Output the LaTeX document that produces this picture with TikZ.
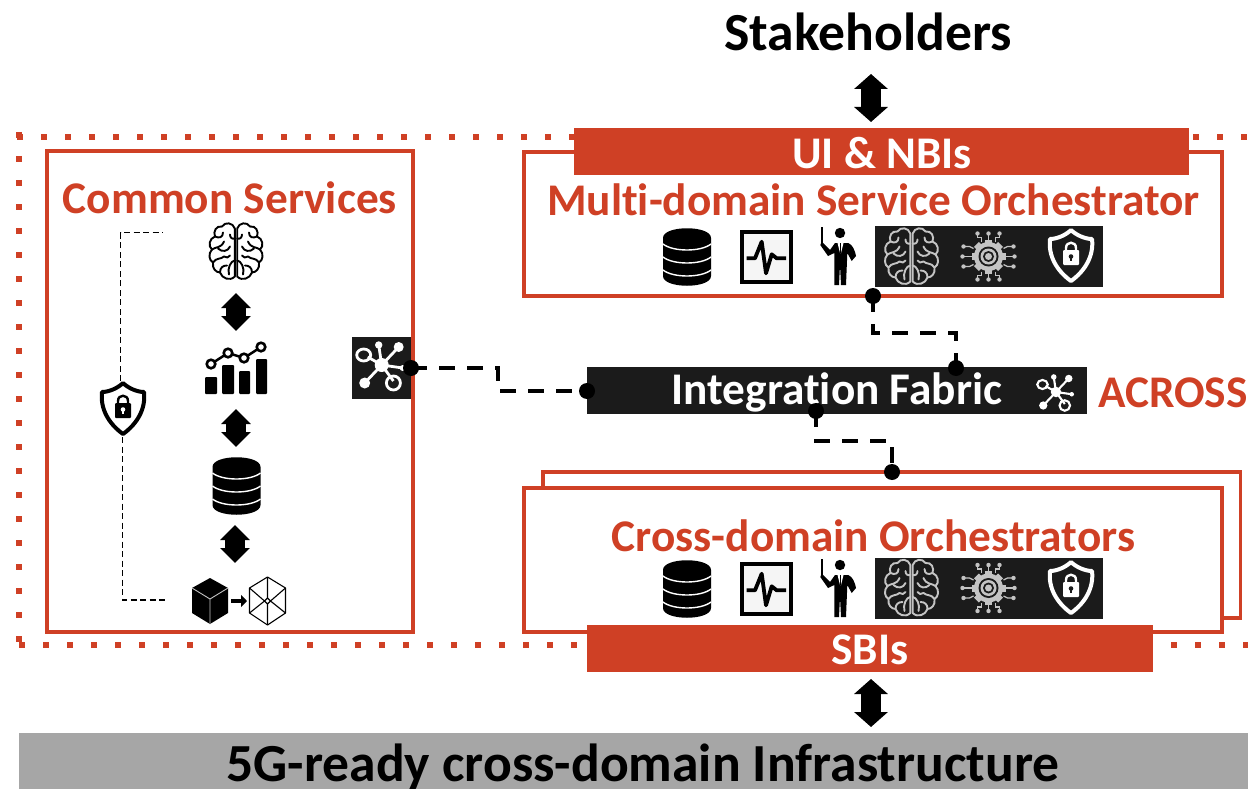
\documentclass[tikz,border=0pt]{standalone}
\usepackage{fontspec}
\setmainfont[Ligatures=NoCommon]{Carlito}
\usetikzlibrary{arrows.meta,calc}
\definecolor{rd}{HTML}{CF4025}
\definecolor{dk}{HTML}{1B1B1B}
\definecolor{gy}{HTML}{C4C4C4}
\definecolor{infra}{HTML}{A6A6A6}
\tikzset{
 x=1pt,y=-1pt,
 box/.style={draw=rd,line width=3.6pt,fill=white},
 bar/.style={fill=rd,inner sep=0pt},
 bartext/.style={text=white,font=\bfseries\fontsize{45.3}{45}\selectfont,inner sep=0pt},
 title/.style={text=rd,font=\bfseries\fontsize{45.3}{45}\selectfont,inner sep=0pt},
 bigtext/.style={font=\bfseries\fontsize{53.6}{54}\selectfont,inner sep=0pt},
 frame/.style={rd,line width=6pt,dash pattern=on 6pt off 18pt},
 dot/.style={circle,fill=black,minimum size=16pt,inner sep=0pt},
 conn/.style={draw=black,line width=3.5pt,dash pattern=on 16pt off 12pt},
 thin dash/.style={draw=black,line width=1.2pt,dash pattern=on 6pt off 3.5pt},
 blockarrow/.style={line width=20pt,draw=black,{Triangle[length=15pt,width=33pt]}-{Triangle[length=15pt,width=33pt]}},
 smallarrow/.style={line width=20pt,draw=black,{Triangle[length=15pt,width=29pt]}-{Triangle[length=15pt,width=29pt]}},
 pics/dbicon/.style={code={
  \fill[black] (-24,-19) .. controls (-24,-32) and (24,-32) .. (24,-19) -- (24,19) .. controls (24,32) and (-24,32) .. (-24,19) -- cycle;
  \draw[white,line width=1.4pt] (-24,-13) .. controls (-14,-5) and (14,-5) .. (24,-13);
  \draw[white,line width=1.4pt] (-24,0) .. controls (-14,8) and (14,8) .. (24,0);
  \draw[white,line width=1.4pt] (-24,13) .. controls (-14,21) and (14,21) .. (24,13);
 }},
 pics/pulseicon/.style={code={
  \draw[black,line width=3.4pt,fill=white!96!black] (-24.5,-25) rectangle (24.5,25);
  \draw[black,line width=3.8pt,line join=round] (-19.8,1.3) -- (-11.5,1.3) -- (-4.8,-15.3) -- (-.5,16.3) -- (5.2,-2.7) -- (10.2,1.3) -- (19.5,1.3);
 }},
 pics/teachicon/.style={code={
  \fill[black] (2,-23) circle (5.2);
  \draw[black,line width=1.1pt] (-16,-29) -- (-16,-12);
  \fill[black] (-16.3,-14.3) -- (-8,-6) -- (-3,-13) -- (10.3,-13) .. controls (15,-11) and (17,-5) .. (18,0) -- (13.7,5) -- (9.3,-3) -- (8,29) -- (3,29) -- (2,9) -- (1,29) -- (-3.7,29) -- (-3.7,-3) -- (-10,0) -- (-17.7,-11) -- cycle;
  \fill[white] (-.5,-13) -- (5.5,-13) -- (3,-3) -- (2,-3) -- cycle;
  \draw[black,line width=1.1pt] (2.5,-13) -- (2.5,-3);
 }},
 pics/brainicon/.style={code={
  \foreach \s in {1,-1}{
  \begin{scope}[xscale=\s,draw=#1,line width=1.9pt,line cap=round,line join=round]
  \draw (-1.2,-23) .. controls (-3,-29) and (-11,-30) .. (-14,-25) .. controls (-20,-26) and (-23,-20) .. (-21,-15) .. controls (-27,-13) and (-28,-5) .. (-24,-2) .. controls (-28,2) and (-27,9) .. (-23,11) .. controls (-24,17) and (-20,21) .. (-16,21) .. controls (-14,27) and (-6,30) .. (-1.2,25) -- cycle;
  \draw (-21,-15) .. controls (-17,-13) and (-13,-14) .. (-13,-19);
  \draw (-1.2,-13) .. controls (-4,-12) and (-6,-14) .. (-6,-17);
  \draw (-24,-2) .. controls (-20,-5) and (-15,-3) .. (-12,-10);
  \draw (-18,-3) .. controls (-14,1) and (-8,0) .. (-6,-5);
  \draw (-23,11) .. controls (-20,6) and (-15,8) .. (-12,5) .. controls (-10,7) and (-7,6) .. (-6,4);
  \draw (-16,21) .. controls (-16,16) and (-13,14) .. (-9,14);
  \draw (-1.2,9) .. controls (-5,9) and (-9,17) .. (-7,23);
  \end{scope}}
 }},
 pics/gearicon/.style={code={
  \begin{scope}[gy]
  \foreach \a in {0,45,...,315}{\fill[rotate=\a] (-3.5,-17) rectangle (3.5,-12);}
  \fill (0,0) circle (14.5);
  \fill[dk] (0,0) circle (10);
  \fill (0,0) circle (8);
  \fill[dk] (0,0) circle (5.5);
  \fill (0,0) circle (3.5);
  \draw[line width=1.2pt] (0,-17) -- (0,-22) (0,17) -- (0,22);
  \fill (0,-23) circle (2.2) (0,23) circle (2.2);
  \foreach \s in {1,-1}{
   \begin{scope}[xscale=\s]
   \draw[line width=1.2pt] (7,-15) -- (7,-19) -- (11,-19) -- (11,-22); \fill (11,-23) circle (2.2);
   \draw[line width=1.2pt] (7,15) -- (7,19) -- (11,19) -- (11,22); \fill (11,23) circle (2.2);
   \draw[line width=1.2pt] (15,-8) -- (19,-10) -- (24,-10); \fill (25,-10) circle (2.2);
   \draw[line width=1.2pt] (15,8) -- (19,10) -- (24,10); \fill (25,10) circle (2.2);
   \draw[line width=1.2pt] (17,0) -- (25,0); \fill (26,0) circle (2.2);
   \end{scope}}
  \end{scope}
 }},
 pics/shieldicon/.style n args={2}{code={
  \draw[#1,line width=4pt,line join=round,fill=#2] (0,-26) .. controls (-5,-21) and (-14,-17) .. (-21,-17) .. controls (-23,0) and (-14,15) .. (0,25) .. controls (14,15) and (23,0) .. (21,-17) .. controls (14,-17) and (5,-21) .. (0,-26) -- cycle;
  \fill[#1,rounded corners=1pt] (-8,-6) rectangle (8,9);
  \draw[#1,line width=2.4pt] (-5,-6) -- (-5,-8) .. controls (-5,-15) and (5,-15) .. (5,-8) -- (5,-6);
  \fill[#2] (0,.5) circle (2.3);
  \fill[#2] (-1.2,.5) rectangle (1.2,5);
 }},
 pics/charticon/.style={code={
  \fill[black,rounded corners=1pt] (-31,9) rectangle (-19,26);
  \fill[black,rounded corners=1pt] (-14,-3) rectangle (-2,26);
  \fill[black,rounded corners=1pt] (3,3) rectangle (14,26);
  \fill[black,rounded corners=1pt] (20,-9) rectangle (31,26);
  \draw[black,line width=2.5pt] (-25,-4) -- (-8,-15) -- (8,-10) -- (25,-21);
  \foreach \p in {(-25,-4),(-8,-15),(8,-10),(25,-21)}{\draw[black,line width=2.6pt,fill=white] \p circle (4.3);}
 }},
 pics/cubeicon/.style={code={
  \fill[black] (0,-23) -- (18,-13) -- (18,12) -- (0,23) -- (-18,12) -- (-18,-13) -- cycle;
  \draw[gy,line width=.9pt] (-18,-13) -- (0,-2) -- (18,-13) (0,-2) -- (0,23);
 }},
 pics/wireicon/.style={code={
  \draw[black,line width=1.1pt,line join=round] (0,-24) -- (18,-13) -- (18,12) -- (0,24) -- (-18,12) -- (-18,-13) -- cycle;
  \draw[black,line width=1.1pt] (0,-3) -- (3,0) -- (0,3) -- (-3,0) -- cycle (0,-24) -- (0,-3) (0,3) -- (0,24) (-18,-13) -- (-3,0) (18,-13) -- (3,0) (-18,12) -- (-3,0) (18,12) -- (3,0);
 }},
 pics/neticon/.style={code={
  \begin{scope}[white]
  \fill (0,0) circle (7);
  \draw[line width=#1*2.8pt] (0,0) -- (-3,-20) (0,0) -- (17,-18) (0,0) -- (21,3) (0,0) -- (-17,18) (0,0) -- (11.7,16) (0,0) -- (-14,-8);
  \fill (-3,-20) circle (3.7) (17,-18) circle (5) (21,3) circle (3) (-17,18) circle (5.5);
  \draw[line width=#1*2.8pt] (-18,-10) ellipse (7 and 6);
  \draw[line width=#1*2.8pt] (11.7,18) circle (7);
  \end{scope}
 }},
}
\begin{document}
\begin{tikzpicture}[x=1pt,y=-1pt]
\useasboundingbox (0,0) rectangle (1248,789);
% outer dotted frame
\coordinate (fa) at (574,137); \coordinate (fb) at (17,137);
\coordinate (fc) at (19,132); \coordinate (fd) at (19,645);
\coordinate (fe) at (19,645); \coordinate (ff) at (587,645);
\coordinate (fg) at (1193,137); \coordinate (fh) at (1248,137);
\coordinate (fi) at (1171,645); \coordinate (fj) at (1248,645);
\draw[frame] (fb) -- (fa);
\draw[frame] (fc) -- (fd);
\draw[frame] (fe) -- (ff);
\draw[frame] (fg) -- (fh);
\draw[frame] (fi) -- (fj);
% boxes
\node[box,minimum width=366pt,minimum height=481pt,inner sep=0pt] (common) at (230,391.5) {};
\node[box,minimum width=698pt,minimum height=144pt,inner sep=0pt] (mdso) at (873,224) {};
\coordinate (b1) at (543,488); \coordinate (b2) at (543,472); \coordinate (b3) at (1240.5,472); \coordinate (b4) at (1240.5,618); \coordinate (b5) at (1222,618);
\draw[rd,line width=3.6pt] (b1) -- (b2) -- (b3) -- (b4) -- (b5);
\node[box,minimum width=698pt,minimum height=144pt,inner sep=0pt] (cross) at (873,560) {};
% bars
\node[bar,minimum width=615pt,minimum height=47pt] (ui) at (881.5,151.5) {};
\node[bartext] (uit) at (882,153) {UI \& NBIs};
\node[bar,minimum width=566pt,minimum height=47pt] (sbi) at (870,648.5) {};
\node[bartext] (sbit) at (870,650) {SBIs};
\node[fill=dk,minimum width=500pt,minimum height=47pt,inner sep=0pt] (fabric) at (837,390.5) {};
\node[bartext] (fabt) at (837,392) {Integration Fabric};
\node[title] (across) at (1173,393) {ACROSS};
\node[title] (ct) at (230,198) {Common Services};
\node[title] (mt) at (873.5,200) {Multi-domain Service Orchestrator};
\node[title] (xt) at (873.5,536) {Cross-domain Orchestrators};
\node[bigtext] (stake) at (868,32) {Stakeholders};
% infrastructure bar
\fill[infra] (19,733) rectangle (1248,789);
\begin{scope}
\clip (0,733) rectangle (1248,789);
\node[bigtext] (infrat) at (643,767) {5G-ready cross-domain Infrastructure};
\end{scope}
% dark panels
\node[fill=dk,minimum width=228pt,minimum height=61pt,inner sep=0pt] (p1) at (989,256.5) {};
\node[fill=dk,minimum width=228pt,minimum height=61pt,inner sep=0pt] (p2) at (989,588) {};
\node[fill=dk,minimum width=59pt,minimum height=62pt,inner sep=0pt] (netbox) at (381.5,368) {};
% icons MDSO
\pic at (687,257) {dbicon};
\pic at (766.5,257) {pulseicon};
\pic at (838,256) {teachicon};
\pic at (911.5,256.5) {brainicon=gy};
\pic at (988.5,256.5) {gearicon};
\pic at (1071,256) {shieldicon={white}{dk}};
% icons cross
\pic at (687,589) {dbicon};
\pic at (766.5,589) {pulseicon};
\pic at (838,588) {teachicon};
\pic at (911.5,588) {brainicon=gy};
\pic at (988.5,588) {gearicon};
\pic at (1071,588) {shieldicon={white}{dk}};
% common services icons
\pic at (236,251.5) {brainicon=black};
\pic at (236,368) {charticon};
\pic at (236.5,486) {dbicon};
\pic at (210,601) {cubeicon};
\pic at (267.5,601) {wireicon};
\pic at (123,409) {shieldicon={black}{white}};
\pic at (381.7,365) {neticon=1};
\pic[scale=.75] at (1056,392) {neticon=.75};
% cube arrow
\coordinate (ca) at (231,601); \coordinate (cb) at (247,601);
\draw[black,line width=4pt,-{Triangle[length=6pt,width=12pt]}] (ca) -- (cb);
% thin dashed brackets
\coordinate (sh1) at (120.5,381); \coordinate (sh1b) at (120.5,232.5); \coordinate (sh1c) at (163,232.5);
\coordinate (sh2) at (122.5,437); \coordinate (sh2b) at (122.5,600); \coordinate (sh2c) at (165,600);
\draw[thin dash] (sh1) -- (sh1b) -- (sh1c);
\draw[thin dash] (sh2) -- (sh2b) -- (sh2c);
% block arrows
\coordinate (a1) at (871,74); \coordinate (a2) at (871,122);
\coordinate (a3) at (871,679); \coordinate (a4) at (871,727);
\coordinate (a5) at (236,293); \coordinate (a6) at (236,331);
\coordinate (a7) at (236,409); \coordinate (a8) at (236,447);
\coordinate (a9) at (235,525); \coordinate (a10) at (235,563);
\draw[blockarrow] (a1) -- (a2);
\draw[blockarrow] (a3) -- (a4);
\draw[smallarrow] (a5) -- (a6);
\draw[smallarrow] (a7) -- (a8);
\draw[smallarrow] (a9) -- (a10);
% connectors
\node[dot] (dA) at (411,368) {};
\node[dot] (dB) at (587,391) {};
\node[dot] (dC) at (873,296) {};
\node[dot] (dD) at (956,368) {};
\node[dot] (dE) at (816,411) {};
\node[dot] (dF) at (892,472) {};
\coordinate (k1) at (498,368); \coordinate (k2) at (498,391);
\coordinate (k3) at (873,333); \coordinate (k4) at (956,333);
\coordinate (k5) at (816,441); \coordinate (k6) at (892,441);
\draw[conn] (dA.center) -- (k1) -- (k2) -- (dB.center);
\draw[conn] (dC.center) -- (k3) -- (k4) -- (dD.center);
\draw[conn] (dE.center) -- (k5) -- (k6) -- (dF.center);
\end{tikzpicture}
\end{document}
